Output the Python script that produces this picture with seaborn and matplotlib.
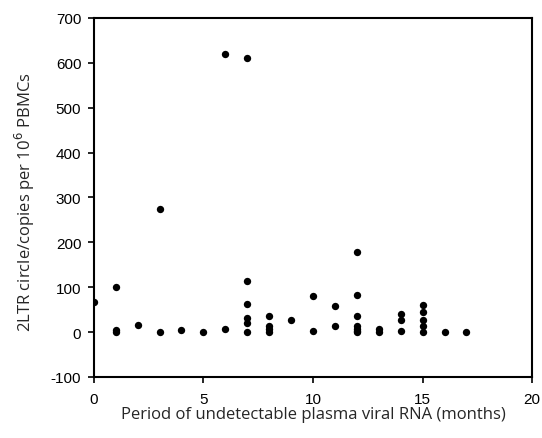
import numpy as np
import pandas as pd
import matplotlib
matplotlib.use("Agg")
import matplotlib.pyplot as plt
import seaborn as sns

# months of undetectable plasma viral RNA and 2LTR circle copies
months = [0, 1, 1, 1, 2, 3, 3, 4, 5, 6, 6,
          7, 7, 7, 7, 7, 7,
          8, 8, 8, 8, 9, 10, 10, 11, 11,
          12, 12, 12, 12, 12, 12, 12,
          13, 13, 14, 14, 14,
          15, 15, 15, 15, 15, 16, 17]
copies = [68, 100, 4, 0, 16, 275, 0, 4, 0, 619, 7,
          610, 114, 62, 31, 20, 0,
          36, 14, 7, 0, 27, 80, 2, 58, 13,
          178, 82, 36, 13, 7, 2, 0,
          7, 0, 40, 27, 2,
          60, 45, 27, 13, 0, 0, 0]

df = pd.DataFrame({"months": months, "copies": copies})

sns.set_style("ticks")
plt.rcParams["font.family"] = ["Liberation Sans", "DejaVu Sans"]
plt.rcParams["axes.unicode_minus"] = False

fig = plt.figure(figsize=(5.42, 4.39), dpi=100)
ax = fig.add_axes([0.173, 0.139, 0.809, 0.818])

sns.scatterplot(data=df, x="months", y="copies", color="black", s=28,
                edgecolor="black", linewidth=0, ax=ax, legend=False)

ax.set_xlim(0, 20)
ax.set_ylim(-100, 700)
ax.set_xticks([0, 5, 10, 15, 20])
ax.set_yticks(range(-100, 701, 100))
ax.tick_params(direction="out", length=4, width=1.2, colors="black",
               labelsize=11)
ax.tick_params(axis="x", pad=7)
ax.tick_params(axis="y", pad=5)
for side in ["left", "right", "top", "bottom"]:
    ax.spines[side].set_visible(True)
    ax.spines[side].set_linewidth(1.5)
    ax.spines[side].set_color("black")

ax.set_xlabel("Period of undetectable plasma viral RNA (months)",
              family=["Open Sans", "DejaVu Sans"], fontsize=12, labelpad=0)
ax.set_ylabel("2LTR circle/copies per 10$^6$ PBMCs",
              family=["Open Sans", "DejaVu Sans"], fontsize=12)
ax.yaxis.set_label_coords(-0.13, 0.49)

fig.savefig("out.png", dpi=100)
